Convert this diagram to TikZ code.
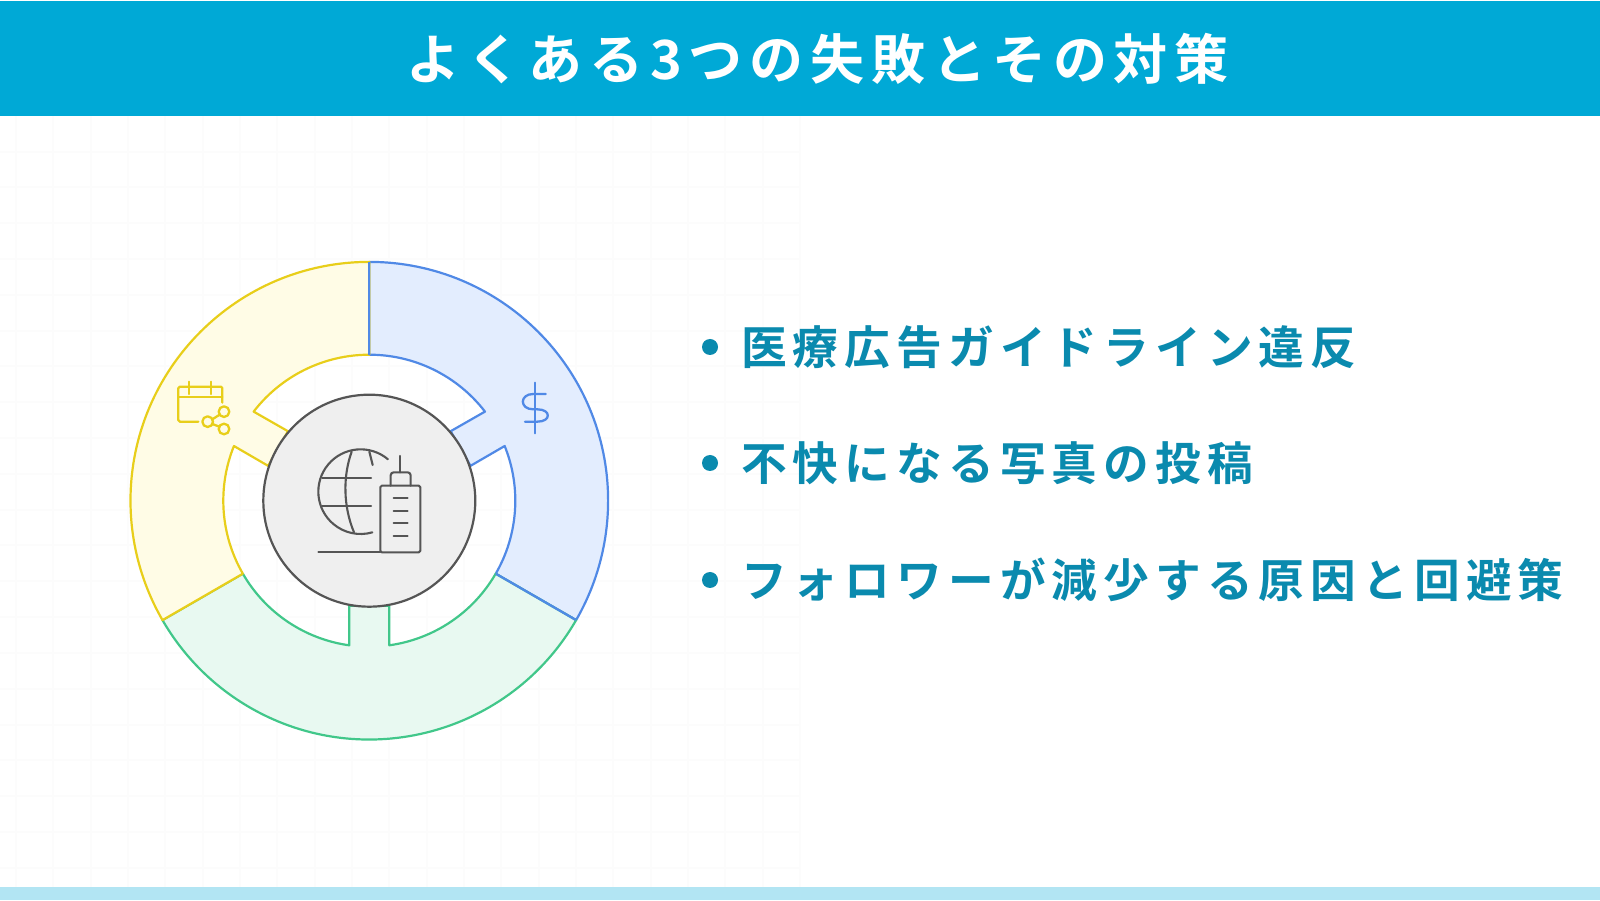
\documentclass[tikz,border=0pt]{standalone}
\usepackage{fontspec}
\setmainfont{Noto Sans CJK JP}[BoldFont={Noto Sans CJK JP Bold}]
\newfontfamily\jpbold{Noto Sans CJK JP Bold}
\definecolor{headcol}{HTML}{00A9D6}
\definecolor{stripcol}{HTML}{B2E5F3}
\definecolor{tealcol}{HTML}{0A8AAE}
\definecolor{gridcol}{HTML}{FCFCFC}
\definecolor{blueS}{HTML}{5089E6}
\definecolor{blueF}{HTML}{E3EDFE}
\definecolor{greenS}{HTML}{41C78A}
\definecolor{greenF}{HTML}{E8F9F1}
\definecolor{yelS}{HTML}{E8CE1A}
\definecolor{yelF}{HTML}{FFFCE6}
\definecolor{darkS}{HTML}{555555}
\definecolor{coreF}{HTML}{EFEFEF}
\tikzset{
  seg/.style={line width=2.2pt,line join=round},
  ico/.style={line width=2.1pt,line cap=round,line join=round},
  item/.style={anchor=base west,inner sep=0pt,text=tealcol,font=\jpbold\fontsize{45.7}{50}\selectfont\addfontfeature{LetterSpace=13.3}},
  dot/.style={circle,fill=tealcol,inner sep=0pt,minimum size=16pt},
}
\begin{document}
\begin{tikzpicture}[x=1pt,y=1pt]
\useasboundingbox (0,0) rectangle (1600,900);
\fill[white] (0,0) rectangle (1600,900);
% faint grid
\begin{scope}[gridcol,line width=2pt]
\foreach \i in {0,...,21} \draw ({16+37.33*\i},13) -- ({16+37.33*\i},784);
\foreach \i in {0,...,20} \draw (0,{900-(151.7+35.8*\i)}) -- (800,{900-(151.7+35.8*\i)});
\end{scope}
% bands
\fill[headcol] (0,783.5) rectangle (1600,899);
\fill[stripcol] (0,0) rectangle (1600,13);
\node[inner sep=0pt,anchor=base west,text=white,font=\jpbold\fontsize{54}{60}\selectfont\addfontfeature{LetterSpace=12.9}] (title) at (406,820) {よくある3つの失敗とその対策};
% ring
\begin{scope}[shift={(369.3,399.3)}]
\def\Ro{238.8}\def\Ri{146}\def\Rc{106}
% blue
\draw[seg,blueS,fill=blueF] (90:\Ro) arc[start angle=90,end angle=-30,radius=\Ro]
  -- (-30:\Ri) arc[start angle=-30,end angle=22,radius=\Ri]
  -- (19:\Rc+1) -- (40.5:\Rc+1) -- (37.6:\Ri) arc[start angle=37.6,end angle=90,radius=\Ri] -- cycle;
% green
\draw[seg,greenS,fill=greenF] (-30:\Ro) arc[start angle=-30,end angle=-150,radius=\Ro]
  -- (-150:\Ri) arc[start angle=-150,end angle=-97.9,radius=\Ri]
  -- (-20,-105) -- (20,-105) -- (20,-144.6) arc[start angle=-82.1,end angle=-30,radius=\Ri] -- cycle;
% yellow
\draw[seg,yelS,fill=yelF] (90:\Ro) arc[start angle=90,end angle=210,radius=\Ro]
  -- (210:\Ri) arc[start angle=210,end angle=158,radius=\Ri]
  -- (161:\Rc+1) -- (139.5:\Rc+1) -- (142.4:\Ri) arc[start angle=142.4,end angle=90,radius=\Ri] -- cycle;
% shared edges in blue, as in the reference
\draw[seg,blueS] (90:\Ro) -- (90:\Ri);
\draw[seg,blueS] (-30:\Ro) -- (-30:\Ri);
\node[circle,draw=darkS,fill=coreF,line width=2.2pt,inner sep=0pt,minimum size=212pt] (core) at (0,0) {};
\end{scope}
% globe and tower
\begin{scope}[shift={(290,480)},xscale=1/3,yscale=-1/3,ico,darkS]
\draw (212,215) ++(-50:127) arc[start angle=-50,end angle=-286,radius=127];
\draw (97,173) -- (243,173);
\draw (97,258) -- (243,258);
\draw (185,95) .. controls (158,170) and (160,260) .. (192,337);
\draw (238,95) -- (248,135);
\draw[rounded corners=1.5pt] (271,397) -- (271,197) -- (391,197) -- (391,397) -- cycle;
\draw[rounded corners=3pt] (302,197) -- (302,157) -- (362,157) -- (362,197);
\draw (331,157) -- (331,108);
\foreach \y in {234,272,310,348} \draw (311,\y) -- (353,\y);
\draw (85,397) -- (271,397);
\end{scope}
% calendar
\begin{scope}[shift={(160,530)},xscale=1/3,yscale=-1/3,ico,yelS,line width=2.3pt]
\draw[rounded corners=1.5pt] (115,155) -- (55,155) -- (55,50) -- (187,50) -- (187,98);
\draw (55,82) -- (187,82);
\draw (88,35) -- (88,72);
\draw (153,35) -- (153,72);
\draw (143,155) circle[radius=16];
\draw (192,125) circle[radius=16];
\draw (192,177) circle[radius=16];
\draw (157,148) -- (179,134);
\draw (157,162) -- (178,170);
\end{scope}
% dollar
\begin{scope}[shift={(500,530)},xscale=1/3,yscale=-1/3,ico,blueS,line width=2.3pt]
\draw (105,38) -- (105,190);
\draw (137,72) -- (100,72) .. controls (58,72) and (58,118) .. (100,118) -- (112,118) .. controls (154,118) and (154,155) .. (112,155) -- (75,155);
\end{scope}
% bullets and text
\node[dot] (d1) at (710,553) {};
\node[dot] (d2) at (710,437) {};
\node[dot] (d3) at (710,320) {};
\node[item] (t1) at (741,535) {医療広告ガイドライン違反};
\node[item] (t2) at (741,419) {不快になる写真の投稿};
\node[item] (t3) at (741,302) {フォロワーが減少する原因と回避策};
\end{tikzpicture}
\end{document}
